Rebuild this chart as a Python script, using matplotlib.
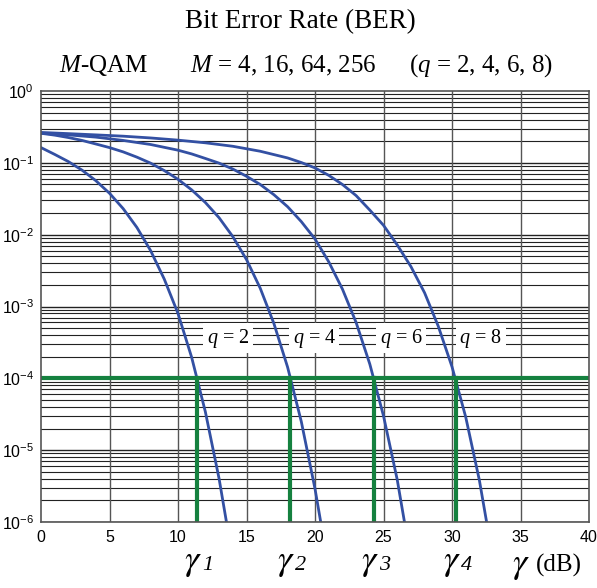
import matplotlib
matplotlib.use("Agg")
import matplotlib.pyplot as plt
from matplotlib.ticker import FixedLocator

plt.rcParams["font.family"] = ["Liberation Serif", "DejaVu Serif"]
plt.rcParams["mathtext.fontset"] = "custom"
plt.rcParams["mathtext.rm"] = "Liberation Sans"
plt.rcParams["mathtext.it"] = "Liberation Serif:italic"

# SNR (dB) and BER values
snr_q2 = [0, 1, 2, 3, 4, 5, 6, 7, 8, 9, 10, 11, 12, 13, 13.6]
ber_q2 = [0.163, 0.131, 0.104, 0.079, 0.0565, 0.0377, 0.023, 0.0126, 6.0e-3,
          2.4e-3, 8.0e-4, 1.95e-4, 3.4e-5, 4.0e-6, 8.5e-7]

snr_q4 = [0, 1, 2, 3, 4, 5, 6, 7, 8, 9, 10, 11, 12, 13, 14, 15, 16, 17, 18,
          19, 20, 20.5]
ber_q4 = [0.258, 0.243, 0.225, 0.205, 0.183, 0.163, 0.142, 0.12, 0.099, 0.078,
          0.059, 0.042, 0.028, 0.0172, 9.4e-3, 4.5e-3, 1.8e-3, 5.8e-4, 1.43e-4,
          2.5e-5, 2.9e-6, 8.1e-7]

snr_q6 = [0, 2, 4, 6, 8, 10, 11, 12, 13, 14, 15, 16, 17, 18, 19, 20, 21, 22,
          23, 24, 25, 26, 27]
ber_q6 = [0.258, 0.245, 0.228, 0.205, 0.18, 0.15, 0.133, 0.115, 0.099, 0.082,
          0.065, 0.05, 0.036, 0.0245, 0.0152, 8.7e-3, 4.2e-3, 1.75e-3, 6.0e-4,
          1.58e-4, 3.0e-5, 3.9e-6, 3.0e-7]

snr_q8 = [0, 2, 4, 6, 8, 10, 12, 14, 16, 18, 19, 20, 21, 22, 23, 24, 25, 26,
          27, 28, 29, 30, 31, 32, 33]
ber_q8 = [0.265, 0.255, 0.245, 0.235, 0.222, 0.207, 0.19, 0.17, 0.145, 0.117,
          0.101, 0.085, 0.067, 0.05, 0.035, 0.022, 0.0135, 7.2e-3, 3.6e-3,
          1.55e-3, 5.3e-4, 1.45e-4, 2.9e-5, 3.8e-6, 3.0e-7]

curves = [(snr_q2, ber_q2), (snr_q4, ber_q4), (snr_q6, ber_q6), (snr_q8, ber_q8)]

q_labels = ["2", "4", "6", "8"]
q_label_x = [13.65, 19.95, 26.3, 32.1]
target_ber = 1e-4
gamma_db = [11.4, 18.2, 24.3, 30.3]

blue = "#3350a3"
green = "#15813f"

fig = plt.figure(figsize=(5.97, 5.88), dpi=100)
ax = fig.add_axes([41 / 597, 1 - 522 / 588, 548 / 597, 431 / 588])

ax.set_yscale("log")
ax.set_xlim(0, 40)
ax.set_ylim(1e-6, 1)

# grid
for k in range(-6, 0):
    for m in range(1, 10):
        v = m * 10.0 ** k
        ax.axhline(v, color="#222222", lw=1.0 if m == 1 else 0.8, zorder=1)
for xv in range(5, 40, 5):
    ax.axvline(xv, color="#555555", lw=1.0, zorder=1)

for sx, by in curves:
    ax.plot(sx, by, color=blue, lw=2, zorder=3)

ax.axhline(target_ber, color=green, lw=3, zorder=4)
for g in gamma_db:
    ax.plot([g, g], [1e-6, target_ber], color=green, lw=3, zorder=4)

for lab, lx in zip(q_labels, q_label_x):
    ax.text(lx, 3.6e-4, "$q$ = " + lab, fontsize=14.5, ha="center", va="center",
            bbox=dict(facecolor="white", edgecolor="none", pad=2.5), zorder=5)

ax.set_xticks(range(0, 45, 5))
ax.yaxis.set_major_locator(FixedLocator([10.0 ** k for k in range(-6, 1)]))
ax.yaxis.set_minor_locator(FixedLocator([]))
ax.tick_params(axis="both", length=0, labelsize=11.5)
for lab in ax.get_xticklabels() + ax.get_yticklabels():
    lab.set_fontfamily("Liberation Sans")
ax.tick_params(axis="x", pad=6)
ax.tick_params(axis="y", pad=5)
for s in ax.spines.values():
    s.set_color("#555555")
    s.set_linewidth(1.2)
    s.set_zorder(6)

xt = ax.get_xaxis_transform()
for i, g in enumerate(gamma_db):
    ax.text(g - 0.3, -0.095, r"$\gamma$", transform=xt, fontsize=26,
            math_fontfamily="stix", ha="center", va="center")
    ax.text(g + 0.35, -0.1, str(i + 1), transform=xt, fontsize=16,
            style="italic", ha="left", va="center")
ax.text(35.0, -0.1, r"$\gamma$", transform=xt, fontsize=26,
        math_fontfamily="stix", ha="center", va="center")
ax.text(36.1, -0.1, "(dB)", transform=xt, fontsize=18, ha="left", va="center")

fig.text(300 / 597, 1 - 22 / 588, "Bit Error Rate (BER)", fontsize=19.5,
         ha="center", va="center")
fig.text(104 / 597, 1 - 66 / 588, "$M$-QAM", fontsize=18, ha="center", va="center")
fig.text(283 / 597, 1 - 66 / 588, "$M$ = 4, 16, 64, 256", fontsize=18,
         ha="center", va="center")
fig.text(481 / 597, 1 - 66 / 588, "($q$ = 2, 4, 6, 8)", fontsize=18,
         ha="center", va="center")

fig.savefig("out.png", dpi=100)
